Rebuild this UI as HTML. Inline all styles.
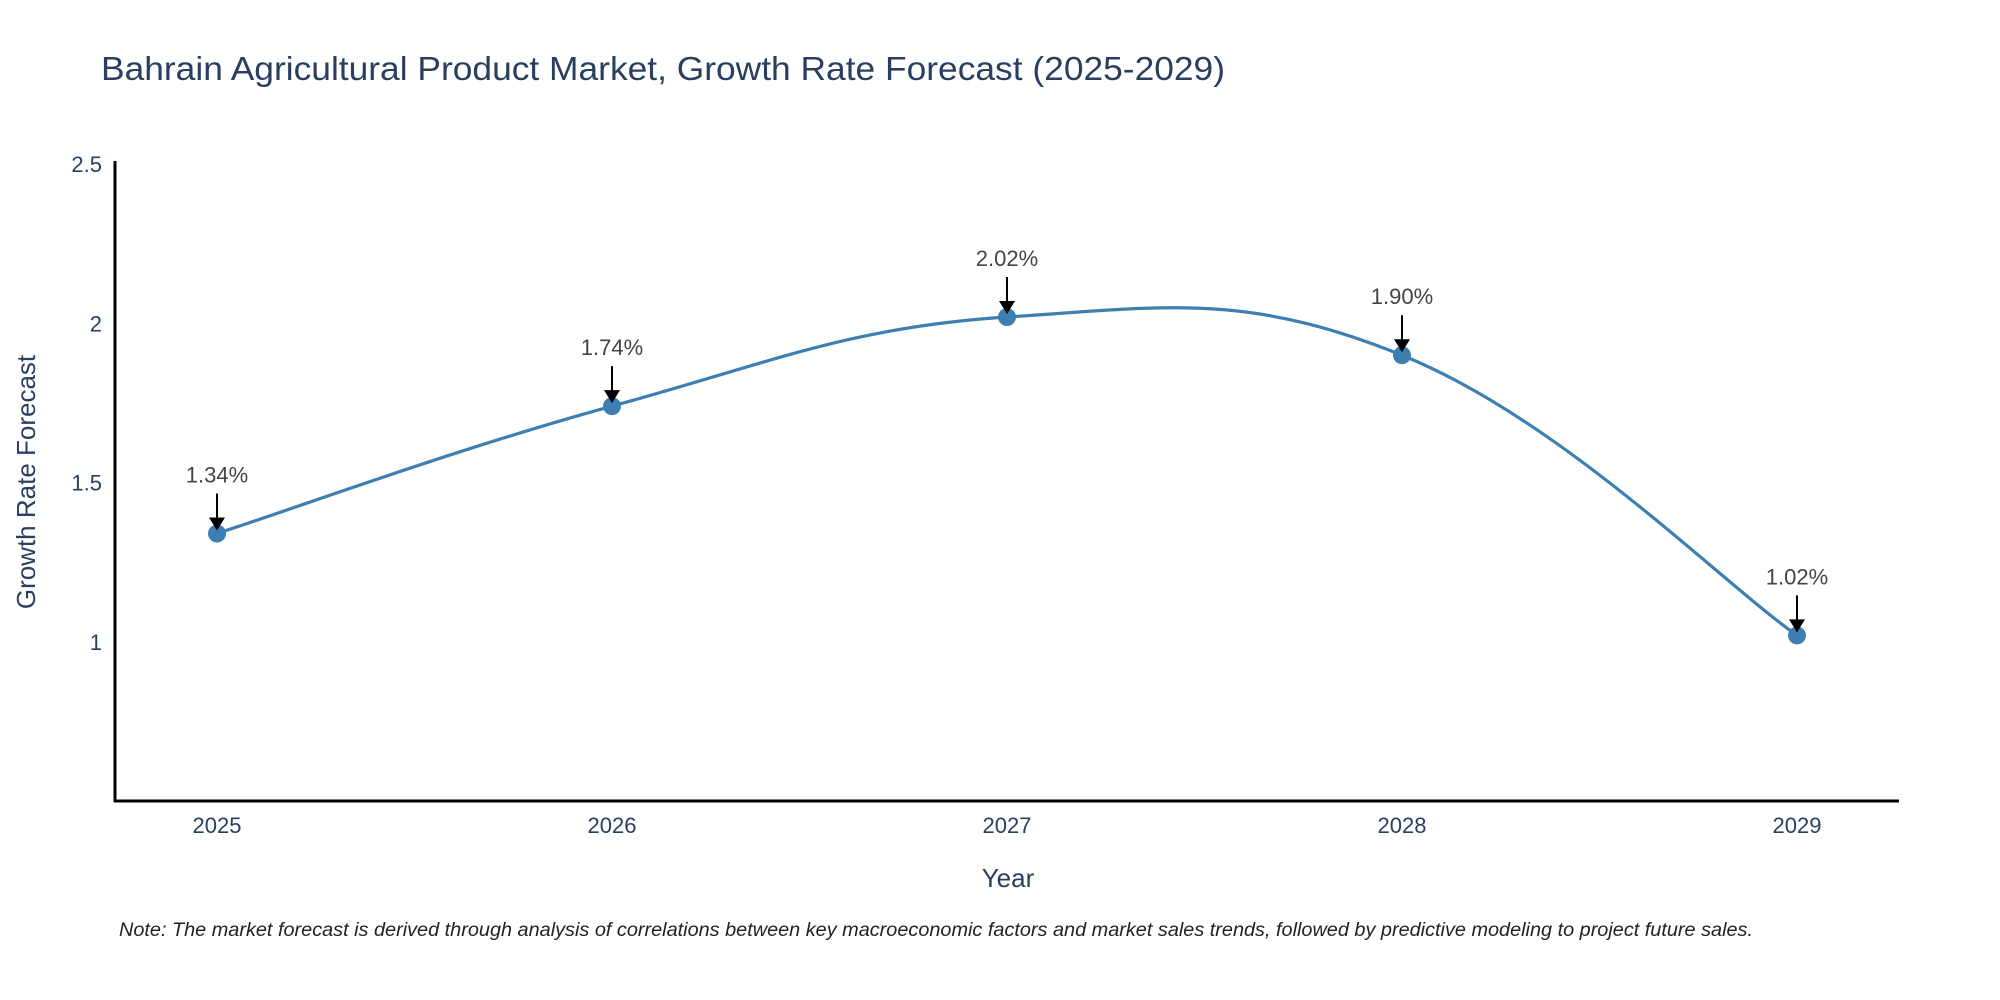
<!DOCTYPE html>
<html><head><meta charset="utf-8"><style>
html,body{margin:0;padding:0;background:#fff;}
svg{display:block;font-family:"Liberation Sans",sans-serif;}
</style></head><body>
<svg id="chart" width="2000" height="1000" viewBox="0 0 2000 1000">
<rect width="2000" height="1000" fill="#fff"/>
<text x="101" y="80" font-size="33" fill="#2a3f5f" textLength="1124" lengthAdjust="spacingAndGlyphs">Bahrain Agricultural Product Market, Growth Rate Forecast (2025-2029)</text>
<g id="yticks"></g>
<g id="xticks"></g>
<path id="curve" fill="none" stroke="#3d7fb0" stroke-width="3.2"/>
<g id="marks"></g>
<g id="annots"></g>
<line x1="115" y1="161" x2="115" y2="802" stroke="#000" stroke-width="3"/>
<line x1="114" y1="801" x2="1899" y2="801" stroke="#000" stroke-width="3"/>
<text x="1008" y="887" font-size="26" fill="#2a3f5f" text-anchor="middle">Year</text>
<text transform="translate(35,482) rotate(-90)" font-size="26" fill="#2a3f5f" text-anchor="middle">Growth Rate Forecast</text>
<text x="119" y="936" font-size="19" font-style="italic" fill="#222" textLength="1634" lengthAdjust="spacingAndGlyphs">Note: The market forecast is derived through analysis of correlations between key macroeconomic factors and market sales trends, followed by predictive modeling to project future sales.</text>
</svg>
<script>
const years = ["2025","2026","2027","2028","2029"];
const growth = [1.34, 1.74, 2.02, 1.90, 1.02];
const valueLabels = ["1.34%","1.74%","2.02%","1.90%","1.02%"];
const yTickValues = [1, 1.5, 2, 2.5];
const yTickLabels = ["1","1.5","2","2.5"];

const NS = "http://www.w3.org/2000/svg";
const X0 = 217, XSTEP = 395;
const Y_MIN = 0.5, Y_MAX = 2.51, Y_BOT = 801, Y_TOP = 161;
function xPos(i){ return X0 + i*XSTEP; }
function yPos(v){ return Y_BOT - (v - Y_MIN)/(Y_MAX - Y_MIN)*(Y_BOT - Y_TOP); }
function mk(tag, attrs, parent){ const e=document.createElementNS(NS,tag); for(const k in attrs) e.setAttribute(k,attrs[k]); parent.appendChild(e); return e; }

const yt = document.getElementById('yticks');
yTickValues.forEach((v,i)=>{
  const t = mk('text',{x:102,y:yPos(v)+8,'font-size':22,fill:'#2a3f5f','text-anchor':'end'},yt);
  
  
  t.textContent = yTickLabels[i];
});
const xt = document.getElementById('xticks');
years.forEach((y,i)=>{
  const t = mk('text',{x:xPos(i),y:833,'font-size':22,fill:'#2a3f5f','text-anchor':'middle'},xt);
  
  
  t.textContent = y;
});

const pts = growth.map((v,i)=>[xPos(i), yPos(v)]);
let d = `M${pts[0][0]},${pts[0][1]}`;
const s = 0.2;
for(let i=0;i<pts.length-1;i++){
  const p0 = pts[Math.max(0,i-1)], p1 = pts[i], p2 = pts[i+1], p3 = pts[Math.min(pts.length-1,i+2)];
  const c1 = [p1[0]+(p2[0]-p0[0])*s, p1[1]+(p2[1]-p0[1])*s];
  const c2 = [p2[0]-(p3[0]-p1[0])*s, p2[1]-(p3[1]-p1[1])*s];
  d += ` C${c1[0]},${c1[1]} ${c2[0]},${c2[1]} ${p2[0]},${p2[1]}`;
}
document.getElementById('curve').setAttribute('d', d);

const mg = document.getElementById('marks');
const ag = document.getElementById('annots');
pts.forEach((p,i)=>{
  const c = mk('circle',{cx:p[0],cy:p[1],r:9,fill:'#3d7fb0'},mg);
  
  
  const ln = mk('line',{x1:p[0],y1:p[1]-40,x2:p[0],y2:p[1]-14,stroke:'#000','stroke-width':2},ag);
  
  
  const hd = mk('path',{d:`M${p[0]-8},${p[1]-16} L${p[0]+8},${p[1]-16} L${p[0]},${p[1]-3} Z`,fill:'#000'},ag);
  
  
  const t = mk('text',{x:p[0],y:p[1]-51,'font-size':22,fill:'#444','text-anchor':'middle'},ag);
  
  
  t.textContent = valueLabels[i];
});
</script>
</body></html>
